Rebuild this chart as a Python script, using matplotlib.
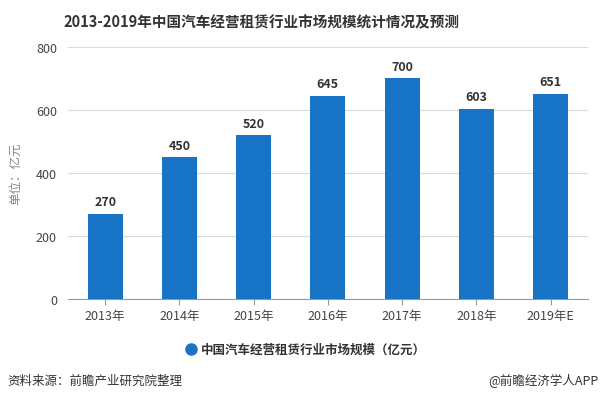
import matplotlib.pyplot as plt
import numpy as np

plt.rcParams['font.family'] = ['Noto Sans CJK SC', 'DejaVu Sans']

years = ['2013年', '2014年', '2015年', '2016年', '2017年', '2018年', '2019年E']
scale = [270, 450, 520, 645, 700, 603, 651]
yticks = [0, 200, 400, 600, 800]

blue = '#1874c6'

fig = plt.figure(figsize=(6.03, 4.02), dpi=100)
ax = fig.add_axes([0.1128, 0.2537, 0.862, 0.627])

x = np.arange(len(years))
bars = ax.bar(x, scale, width=0.47, color=blue, zorder=3,
              label='中国汽车经营租赁行业市场规模（亿元）')
for xi, v in zip(x, scale):
    ax.text(xi, v + 18, str(v), ha='center', va='bottom', fontsize=9,
            fontweight='bold', color='#333333')

ax.set_xlim(-0.5, len(years) - 0.5)
ax.set_ylim(0, 800)
ax.set_yticks(yticks)
ax.set_xticks(x)
ax.set_xticklabels(years)
ax.grid(axis='y', color='#d9d9d9', linewidth=0.8, zorder=0)
for s in ['top', 'right', 'left']:
    ax.spines[s].set_visible(False)
ax.spines['bottom'].set_color('#999999')
ax.tick_params(axis='y', length=0, labelsize=9, labelcolor='#444444', pad=8)
ax.tick_params(axis='x', length=4, color='#999999', labelsize=9, labelcolor='#444444')
ax.set_ylabel('单位：亿元', fontsize=9, color='#888888', labelpad=10)

fig.text(0.434, 0.945, '2013-2019年中国汽车经营租赁行业市场规模统计情况及预测',
         ha='center', va='center', fontsize=10.5, fontweight='bold', color='#333333')

# legend
fig.lines.append(plt.Line2D([0.316], [1 - 350 / 402], marker='o', markersize=8,
                            color=blue, transform=fig.transFigure))
fig.text(0.333, 1 - 350 / 402, '中国汽车经营租赁行业市场规模（亿元）',
         ha='left', va='center', fontsize=9, fontweight='bold', color='#333333')

fig.text(0.013, 1 - 381 / 402, '资料来源：前瞻产业研究院整理',
         ha='left', va='center', fontsize=9, color='#333333')
fig.text(0.992, 1 - 381 / 402, '@前瞻经济学人APP',
         ha='right', va='center', fontsize=9, color='#333333')

fig.savefig('out.png', dpi=100)
